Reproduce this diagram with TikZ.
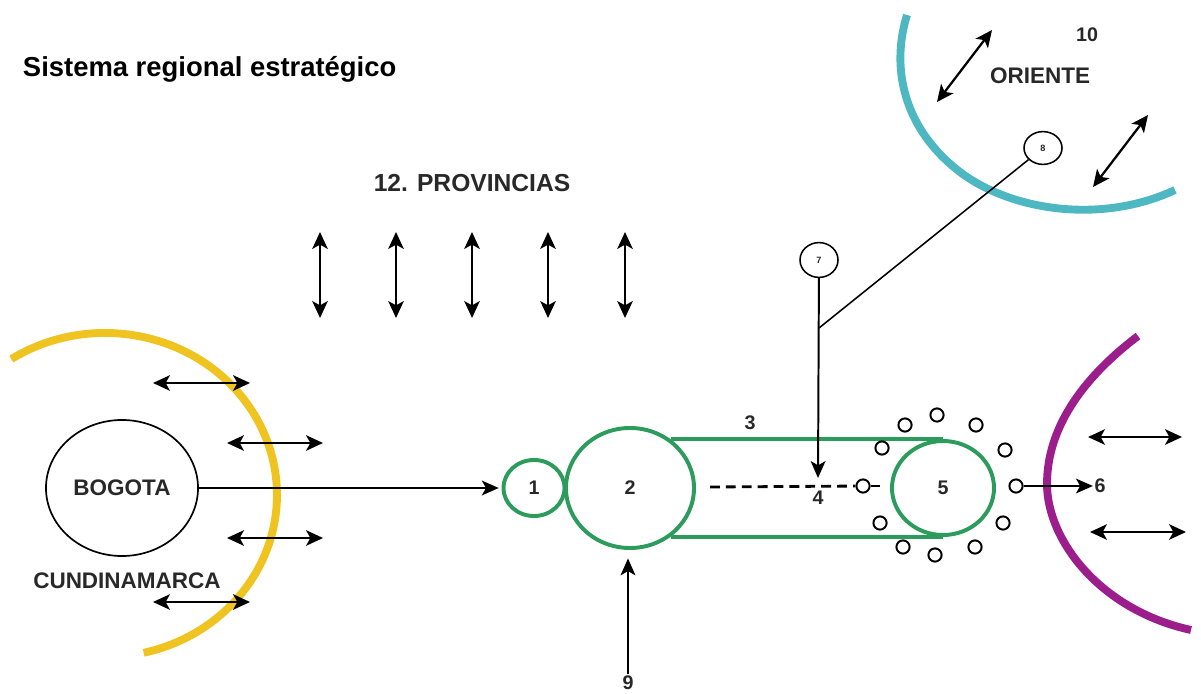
\documentclass[tikz,border=0pt]{standalone}
\usepackage{fontspec}
\setmainfont{Liberation Sans}
\usetikzlibrary{arrows.meta,shapes.geometric}
\definecolor{amarillo}{RGB}{240,196,32}
\definecolor{turquesa}{RGB}{78,184,194}
\definecolor{morado}{RGB}{156,30,140}
\definecolor{verdeo}{RGB}{44,156,92}
\definecolor{gristexto}{RGB}{40,40,40}
\tikzset{
  flecha/.style={line width=1.4pt,-{Stealth[length=12pt,width=10.5pt,inset=3pt]}},
  dflecha/.style={line width=1.6pt,{Stealth[length=12pt,width=11pt,inset=3pt]}-{Stealth[length=12pt,width=11pt,inset=3pt]}},
  etiqueta/.style={text=gristexto,font=\bfseries\fontsize{16}{18}\selectfont},
  num/.style={text=gristexto,font=\bfseries\fontsize{14}{16}\selectfont,inner sep=1pt},
  verde/.style={draw=verdeo,line width=2.8pt,ellipse,num,inner sep=0pt},
  bolita/.style={draw,circle,line width=1.4pt,fill=white,inner sep=0pt,minimum size=0.33cm},
  anillo/.style={draw,ellipse,line width=1.1pt,inner sep=0pt,text=gristexto,font=\bfseries\fontsize{6.5}{7}\selectfont},
  banda/.style={line width=5.6pt}
}
\begin{document}
\begin{tikzpicture}[x=0.025cm,y=-0.025cm]
\useasboundingbox (0,0) rectangle (1201,694);

\node[anchor=base west,font=\bfseries\fontsize{19.5}{22}\selectfont] (titulo) at (18,77) {Sistema regional estratégico};

% provincias
\node[etiqueta,font=\bfseries\fontsize{17.5}{20}\selectfont] (prov) at (472,183) {12. PROVINCIAS};
\foreach \x in {320,396,472,548,625}
  \draw[dflecha] (\x,232) -- (\x,318);

% cundinamarca
\draw[banda,amarillo] (11.3,359.1) arc[start angle=-123,end angle=77,x radius=172,y radius=162];
\node[draw,ellipse,line width=1.2pt,minimum width=3.8cm,minimum height=3.4cm,etiqueta] (bogota) at (122,488) {BOGOTA};
\node[etiqueta] (cundi) at (127,581) {CUNDINAMARCA};
\draw[dflecha] (153,383) -- (250,383);
\draw[dflecha] (227,443) -- (323,443);
\draw[dflecha] (227,538) -- (323,538);
\draw[dflecha] (153,602) -- (250,602);

% oriente
\draw[banda,turquesa] (907,15) .. controls (890,70) and (905,130) .. (960,172)
  .. controls (1010,210) and (1100,225) .. (1175,190);
\node[etiqueta] (oriente) at (1040,76) {ORIENTE};
\node[num] (n10) at (1087,35) {10};
\draw[dflecha] (937,102) -- (992,30);
\draw[dflecha] (1093,187) -- (1148,115);

% morado
\draw[banda,morado] (1138,336) .. controls (1080,380) and (1047,430) .. (1047,484)
  .. controls (1047,540) and (1100,610) .. (1191,630);
\draw[dflecha] (1088,437) -- (1182,437);
\draw[dflecha] (1090,532) -- (1186,532);

% eje central
\node[verde,minimum width=1.525cm,minimum height=1.4cm] (c1) at (534,488) {1};
\node[verde,minimum width=3.2cm,minimum height=3cm] (c2) at (630,488) {2};
\node[verde,minimum width=2.55cm,minimum height=2.35cm] (c5) at (943,488) {5};
\draw[verdeo,line width=2.8pt] (c2.50) -- (c2.50 -| c5.north);
\draw[verdeo,line width=2.8pt] (c2.-50) -- (c2.-50 -| c5.south);
\node[num] (n3) at (750,423) {3};

\foreach \x/\y [count=\i] in {905/425,937/415,976/425,1005/450,1016/486,1003/523,975/547,935/555,903/547,880/523,863/486,882/448}
  \node[bolita] (o\i) at (\x,\y) {};
\draw[line width=2pt,dash pattern=on 7pt off 4.3pt] (710,487) -- (o11);
\draw[line width=2pt] (o11) -- +(17,0);

\draw[flecha,shorten >=2pt] (bogota) -- (c1);
\node[num] (n6) at (1100,486) {6};
\draw[flecha] (o5) -- (n6);

% 7, 8, 4
\node[anillo,minimum width=0.95cm,minimum height=0.87cm] (c7) at (819,260) {7};
\node[anillo,minimum width=0.95cm,minimum height=0.82cm] (c8) at (1043,148) {8};
\node[num] (n4) at (818,498) {4};
\coordinate (p4) at (818,478);
\coordinate (union) at (819,328);
\draw[flecha] (c7) -- (p4);
\draw[line width=1.1pt] (c8) -- (union);

% 9
\node[num] (n9) at (628,683) {9};
\draw[flecha,shorten >=6pt] (n9.north) -- (n9.north |- c2.south);
\end{tikzpicture}
\end{document}
